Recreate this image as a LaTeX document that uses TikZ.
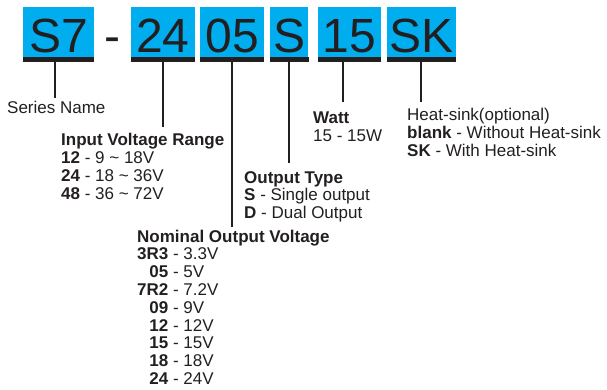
\documentclass[tikz,border=0pt]{standalone}
\usepackage{fontspec}
\setmainfont{Liberation Sans}
\newfontfamily\bigfont{Liberation Sans}
\definecolor{codeblue}{HTML}{00AEEF}
\definecolor{ink}{HTML}{231F20}
\begin{document}
\begin{tikzpicture}[x=1pt,y=-1pt,
  bluebox/.style={fill=codeblue, draw=none, inner sep=0pt, minimum height=49.7pt},
  bigtxt/.style={font=\bigfont\fontsize{48}{48}\selectfont, text=ink, inner sep=0pt, anchor=base},
  desc/.style={font=\fontsize{17}{17.8}\selectfont, text=ink, inner sep=0pt, anchor=base west},
  conn/.style={draw=ink, line width=2pt}]
\useasboundingbox (0,0) rectangle (607,390);
% code boxes
\node[bluebox, minimum width=70.7pt] (b1) at (58.65,32.15) {};
\node[bluebox, minimum width=64pt]   (b2) at (163,32.15) {};
\node[bluebox, minimum width=63.7pt] (b3) at (232.15,32.15) {};
\node[bluebox, minimum width=38.3pt] (b4) at (289.15,32.15) {};
\node[bluebox, minimum width=63pt]   (b5) at (349.2,32.15) {};
\node[bluebox, minimum width=68.7pt] (b6) at (421.35,32.15) {};
\foreach \b in {b1,b2,b3,b4,b5,b6}
  \fill[ink] (\b.south west) rectangle ([yshift=-5pt]\b.south east);
% code letters
\node[bigtxt] (t1) at (58.65,53) {S7};
\node[bigtxt] (dash) at (112,53) {-};
\node[bigtxt] (t2) at (163,53) {24};
\node[bigtxt] (t3) at (232.15,53) {05};
\node[bigtxt] (t4) at (289.15,53) {S};
\node[bigtxt] (t5) at (349.2,53) {15};
\node[bigtxt] (t6) at (421.35,53) {SK};
% descriptions
\node[desc] (sn) at (7,113.5) {Series Name};
\node[desc] (inp) at (61,146) {\begin{tabular}[t]{@{}l@{}}
  \textbf{Input Voltage Range}\\
  \textbf{12} - 9 \textasciitilde{} 18V\\
  \textbf{24} - 18 \textasciitilde{} 36V\\
  \textbf{48} - 36 \textasciitilde{} 72V\end{tabular}};
\node[desc] (ot) at (244,183) {\begin{tabular}[t]{@{}l@{}}
  \textbf{Output Type}\\
  \textbf{S} - Single output\\
  \textbf{D} - Dual Output\end{tabular}};
\node[desc] (nom) at (137,242) {\begin{tabular}[t]{@{}r@{}l@{}}
  \multicolumn{2}{@{}l@{}}{\textbf{Nominal Output Voltage}}\\
  \textbf{3R3} & \ - 3.3V\\
  \textbf{05} & \ - 5V\\
  \textbf{7R2} & \ - 7.2V\\
  \textbf{09} & \ - 9V\\
  \textbf{12} & \ - 12V\\
  \textbf{15} & \ - 15V\\
  \textbf{18} & \ - 18V\\
  \textbf{24} & \ - 24V\end{tabular}};
\node[desc] (watt) at (313,124) {\begin{tabular}[t]{@{}l@{}}
  \textbf{Watt}\\
  15 - 15W\end{tabular}};
\node[desc] (hs) at (407,120.5) {\begin{tabular}[t]{@{}l@{}}
  Heat-sink(optional)\\
  \textbf{blank} - Without Heat-sink\\
  \textbf{SK} - With Heat-sink\end{tabular}};
% connector ends
\coordinate (e1) at (55,98);
\coordinate (e2) at (163,127);
\coordinate (e3) at (232,227);
\coordinate (e4) at (288.5,163);
\coordinate (e5) at (343.3,102);
\coordinate (e6) at (421,102);
\draw[conn] (b1.south -| e1) -- (e1);
\draw[conn] (b2.south -| e2) -- (e2);
\draw[conn] (b3.south -| e3) -- (e3);
\draw[conn] (b4.south -| e4) -- (e4);
\draw[conn] (b5.south -| e5) -- (e5);
\draw[conn] (b6.south -| e6) -- (e6);
\end{tikzpicture}
\end{document}
